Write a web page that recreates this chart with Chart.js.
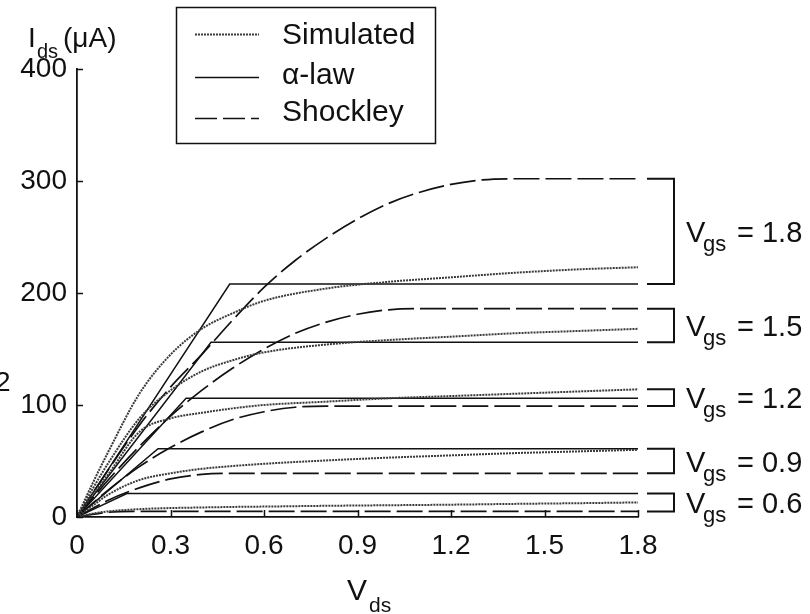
<!DOCTYPE html>
<html>
<head>
<meta charset="utf-8">
<script src="https://cdn.jsdelivr.net/npm/chart.js@4.4.1/dist/chart.umd.min.js"></script>
<style>
  html, body { margin: 0; padding: 0; background: #fff; }
  #wrap { width: 810px; height: 614px; position: relative; }
</style>
</head>
<body>
<div id="wrap"><canvas id="c" width="810" height="614"></canvas></div>
<script>
// ---------- data ----------
const vgsValues = ['1.8', '1.5', '1.2', '0.9', '0.6'];
const xTickValues = [0, 0.3, 0.6, 0.9, 1.2, 1.5, 1.8];
const xTickLabels = ['0', '0.3', '0.6', '0.9', '1.2', '1.5', '1.8'];
const yTickValues = [0, 100, 200, 300, 400];
const yTickLabels = ['0', '100', '200', '300', '400'];
const legendLabels = ['Simulated', '\u03B1-law', 'Shockley'];

// Simulated (dotted)
const simVds = [0, 0.05, 0.1, 0.2, 0.3, 0.4, 0.5, 0.6, 0.8, 1.0, 1.2, 1.4, 1.6, 1.8];
const sim18 = [0, 30, 58, 110, 145, 168, 182, 193, 204, 210, 214, 218, 221, 223];
const sim15 = [0, 25, 48, 88, 113, 130, 140, 147, 154, 158, 161, 164, 166, 168];
const sim12 = [0, 20, 38, 76, 88, 93, 97, 100, 103, 106, 108, 110, 112, 114];
const sim09 = [0, 10, 20, 33, 39, 43, 45.5, 47.5, 50.5, 53, 55, 57, 58.5, 60];
const sim06 = [0, 3, 5, 7, 8, 8.5, 9, 9.3, 10, 10.5, 11, 11.7, 12.3, 13];

// alpha-law (solid): saturation voltage and current per Vgs
const alphaVdsat = [0.49, 0.43, 0.35, 0.26, 0.16];
const alphaIdsat = [208, 156, 106, 61, 21];

// Shockley (dashed)
const shVds = [0, 0.1, 0.2, 0.3, 0.4, 0.5, 0.6, 0.7, 0.8, 0.9, 1.0, 1.1, 1.2, 1.3, 1.4, 1.8];
const sh18 = [0, 42, 82, 116, 145, 176, 205, 229, 249, 266, 280, 290, 297, 301, 302, 302];
const sh15 = [0, 33, 63, 90, 113, 133, 150, 164, 174, 181, 185, 186, 186, 186, 186, 186];
const sh12 = [0, 24, 45, 62, 76, 87, 94, 98, 99, 99, 99, 99, 99, 99, 99, 99];
const sh09 = [0, 15, 26, 34, 38, 39, 39, 39, 39, 39, 39, 39, 39, 39, 39, 39];
const sh06 = [0, 4.2, 5, 5, 5, 5, 5, 5, 5, 5, 5, 5, 5, 5, 5, 5];

// ---------- build datasets ----------
const FONT = "'Liberation Sans', Arial, Helvetica, sans-serif";
const simSeries = [sim18, sim15, sim12, sim09, sim06];
const shSeries = [sh18, sh15, sh12, sh09, sh06];

const STY = {
  sim:   { color: '#3a3a3a', width: 2.0, dash: [2, 1] },
  alpha: { color: '#111111', width: 1.5, dash: [] },
  shock: { color: '#111111', width: 1.7, dash: [26, 6] }
};

const datasets = [];
simSeries.forEach((arr, i) => {
  datasets.push({
    label: 'Simulated ' + vgsValues[i],
    data: simVds.map((x, k) => ({ x: x, y: arr[k] })),
    borderColor: STY.sim.color, borderWidth: STY.sim.width, borderDash: STY.sim.dash,
    cubicInterpolationMode: 'monotone', pointRadius: 0, fill: false
  });
});
alphaVdsat.forEach((vd, i) => {
  datasets.push({
    label: 'alpha ' + vgsValues[i],
    data: [{ x: 0, y: 0 }, { x: vd, y: alphaIdsat[i] }, { x: 1.8, y: alphaIdsat[i] }],
    borderColor: STY.alpha.color, borderWidth: STY.alpha.width, borderDash: STY.alpha.dash,
    tension: 0, pointRadius: 0, fill: false
  });
});
shSeries.forEach((arr, i) => {
  datasets.push({
    label: 'Shockley ' + vgsValues[i],
    data: shVds.map((x, k) => ({ x: x, y: arr[k] })),
    borderColor: STY.shock.color, borderWidth: STY.shock.width, borderDash: STY.shock.dash,
    cubicInterpolationMode: 'monotone', pointRadius: 0, fill: false
  });
});

// ---------- decorations plugin ----------
const deco = {
  id: 'deco',
  afterDraw(chart) {
    const ctx = chart.ctx;
    const xs = chart.scales.x, ys = chart.scales.y;
    const ca = chart.chartArea;
    ctx.save();
    ctx.strokeStyle = '#111';
    ctx.fillStyle = '#111';
    ctx.lineWidth = 1.5;
    ctx.setLineDash([]);
    // inward tick marks
    xTickValues.forEach(v => {
      const px = Math.round(xs.getPixelForValue(v)) + 0.5;
      ctx.beginPath(); ctx.moveTo(px, ca.bottom); ctx.lineTo(px, ca.bottom - 7); ctx.stroke();
    });
    yTickValues.forEach(v => {
      const py = Math.round(ys.getPixelForValue(v)) + 0.5;
      ctx.beginPath(); ctx.moveTo(ca.left, py); ctx.lineTo(ca.left + 6, py); ctx.stroke();
    });

    // axis titles
    ctx.textBaseline = 'alphabetic';
    ctx.textAlign = 'left';
    ctx.font = '28px ' + FONT;
    ctx.fillText('I', 28, 47);
    ctx.font = '20px ' + FONT;
    ctx.fillText('ds', 37, 58);
    ctx.font = '28px ' + FONT;
    ctx.fillText('(\u03BCA)', 63, 47);

    ctx.font = '30px ' + FONT;
    ctx.fillText('V', 347, 600);
    ctx.font = '21px ' + FONT;
    ctx.fillText('ds', 369, 612);

    // stray glyph at the left edge of the scan
    ctx.font = '28px ' + FONT;
    ctx.fillText('2', -5, 391);

    // brackets and Vgs labels
    const ends = [];
    for (let i = 0; i < vgsValues.length; i++) {
      const vals = [simSeries[i][simSeries[i].length - 1], alphaIdsat[i], shSeries[i][shSeries[i].length - 1]];
      const top = ys.getPixelForValue(Math.max.apply(null, vals));
      const bot = ys.getPixelForValue(Math.min.apply(null, vals));
      ends.push([top, bot]);
    }
    ctx.lineWidth = 2;
    ends.forEach(([top, bot], i) => {
      const xl = ca.right + 9, xr = ca.right + 36;
      ctx.beginPath();
      ctx.moveTo(xl, top); ctx.lineTo(xr, top); ctx.lineTo(xr, bot); ctx.lineTo(xl, bot);
      ctx.stroke();
      const mid = (top + bot) / 2;
      const base = mid + 10.5;
      ctx.font = '29px ' + FONT;
      ctx.fillText('V', ca.right + 48, base);
      ctx.font = '22px ' + FONT;
      ctx.fillText('gs', ca.right + 65, base + 9);
      ctx.font = '29px ' + FONT;
      ctx.fillText('= ' + vgsValues[i], ca.right + 99, base);
    });

    // legend
    ctx.lineWidth = 1.5;
    ctx.strokeRect(176.5, 7.5, 259, 136);
    const rows = [
      { y: 34, s: STY.sim, ty: 36 },
      { y: 77, s: STY.alpha, ty: 76 },
      { y: 118, s: STY.shock, ty: 113 }
    ];
    rows.forEach((r, i) => {
      ctx.save();
      ctx.strokeStyle = r.s.color;
      ctx.lineWidth = r.s.width;
      ctx.setLineDash(i === 2 ? [22, 6] : r.s.dash);
      ctx.beginPath(); ctx.moveTo(195, r.y + 0.5); ctx.lineTo(259, r.y + 0.5); ctx.stroke();
      ctx.restore();
      ctx.font = '30px ' + FONT;
      ctx.textBaseline = 'middle';
      ctx.fillText(legendLabels[i], 282, r.ty);
    });
    ctx.restore();
  }
};

Chart.defaults.font.family = FONT;
Chart.defaults.color = '#111';

new Chart(document.getElementById('c'), {
  type: 'line',
  data: { datasets: datasets },
  options: {
    responsive: false,
    animation: false,
    events: [],
    layout: { padding: { top: 69, right: 172, left: 0, bottom: 0 } },
    plugins: { legend: { display: false }, tooltip: { enabled: false } },
    scales: {
      x: {
        type: 'linear', min: 0, max: 1.8,
        afterFit: s => { s.height = 97; },
        afterBuildTicks: s => { s.ticks = xTickValues.map(v => ({ value: v })); },
        grid: { display: false, drawTicks: false },
        border: { display: true, color: '#111', width: 1.8 },
        ticks: {
          padding: 12, autoSkip: false, maxRotation: 0,
          font: { size: 28 }, color: '#111',
          callback: (v, i) => xTickLabels[i]
        }
      },
      y: {
        type: 'linear', min: 0, max: 400,
        afterFit: s => { s.width = 77; },
        afterBuildTicks: s => { s.ticks = yTickValues.map(v => ({ value: v })); },
        grid: { display: false, drawTicks: false },
        border: { display: true, color: '#111', width: 1.8 },
        ticks: {
          padding: 10, autoSkip: false,
          font: { size: 28 }, color: '#111',
          callback: (v, i) => yTickLabels[i]
        }
      }
    }
  },
  plugins: [deco]
});
</script>
</body>
</html>
